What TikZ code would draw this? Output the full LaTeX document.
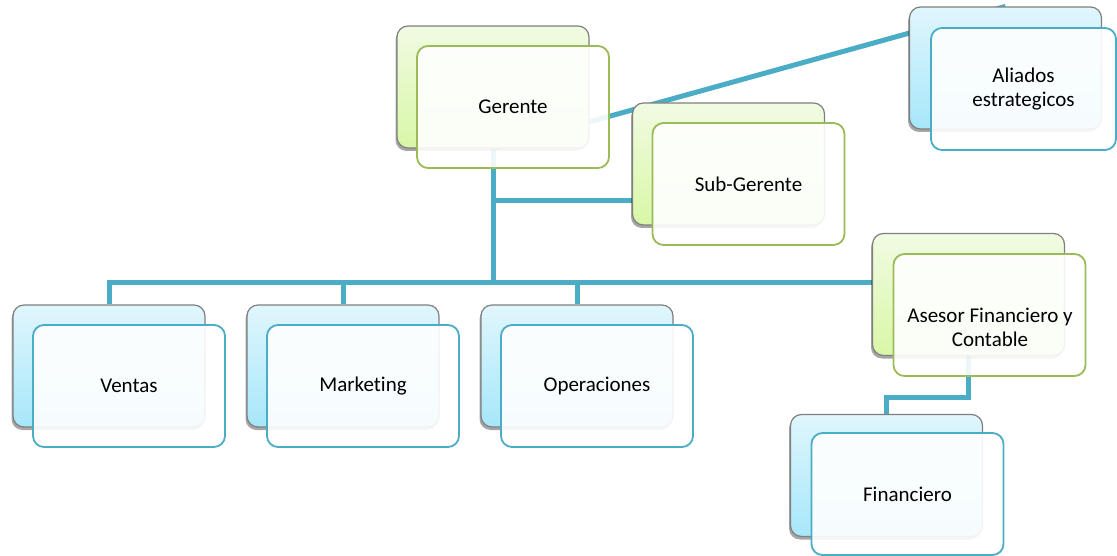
\documentclass[tikz,border=0pt]{standalone}
\usepackage{fontspec}
\setmainfont{Carlito}[Ligatures=NoCommon]
\usetikzlibrary{shadows,backgrounds}
\definecolor{conn}{HTML}{4BACC6}
\definecolor{fgreen}{HTML}{9BBB59}
\definecolor{backgray}{HTML}{7F7F7F}
\definecolor{gtop}{HTML}{F1FBE3}
\definecolor{gbot}{HTML}{D8F7A6}
\definecolor{btop}{HTML}{E0F6FD}
\definecolor{bbot}{HTML}{A6E7FA}
\tikzset{
  backbox/.style={draw=backgray, line width=1.2pt, rounded corners=11pt,
    minimum width=192pt, minimum height=122pt, inner sep=0pt,
    drop shadow={shadow xshift=-1.5pt, shadow yshift=-3pt, opacity=0.35, fill=black}},
  backgreen/.style={backbox, top color=gtop, bottom color=gbot},
  backblue/.style={backbox, top color=btop, bottom color=bbot},
  boxtext/.style={align=center, font=\fontsize{21}{24}\selectfont},
  frontbox/.style={boxtext, rounded corners=11pt, minimum width=192pt, minimum height=122pt,
    inner sep=0pt, line width=1.8pt, fill=white, fill opacity=0.9, text opacity=1},
  frontgreen/.style={frontbox, draw=fgreen},
  frontblue/.style={frontbox, draw=conn},
  link/.style={draw=conn, line width=5pt},
}
\begin{document}
\begin{tikzpicture}[x=1pt, y=-1pt]
\useasboundingbox (0,0) rectangle (1117,556);
% top part
\node[backgreen] (gerB) at (493,87) {};
\node[frontgreen] (ger) at (513,107) {Gerente};
\node[backgreen] (subB) at (728.5,164) {};
\node[frontgreen] (sub) at (748.5,184) {Sub-Gerente};
\node[backblue] (aliB) at (1005.5,68) {};
\node[frontblue, minimum width=185pt] (ali) at (1023.5,89) {Aliados\\estrategicos};
\node[backgreen] (aseB) at (968.5,294.5) {};
\node[frontgreen] (ase) at (989.5,315) {};
\node[boxtext] (aseT) at (990,327) {Asesor Financiero y\\Contable};
\node[backblue] (finB) at (886.5,475.5) {};
\node[frontblue] (fin) at (907.5,494) {Financiero};
% bottom row
\node[backblue] (venB) at (109,366) {};
\node[frontblue] (ven) at (129,386) {Ventas};
\node[backblue] (mktB) at (343,366) {};
\node[frontblue] (mkt) at (363,386) {Marketing};
\node[backblue] (opeB) at (577,366) {};
\node[frontblue] (ope) at (597,386) {Operaciones};
% connectors
\begin{scope}[on background layer]
\coordinate (bus) at (493,283);
\coordinate (subj) at (493,201);
\coordinate (finj) at (968.5,397);
\draw[link] (gerB.south) -- (aliB.north);
\draw[link] (venB.north) |- (bus -| aseB.west);
\draw[link] (gerB.south) -- (bus);
\draw[link] (subj) -- (subj -| subB.west);
\draw[link] (mktB.north) -- (mktB.north |- bus);
\draw[link] (opeB.north) -- (opeB.north |- bus);
\draw[link] (aseB.south) -- (finj) -| (finB.north);
\end{scope}
\end{tikzpicture}
\end{document}
